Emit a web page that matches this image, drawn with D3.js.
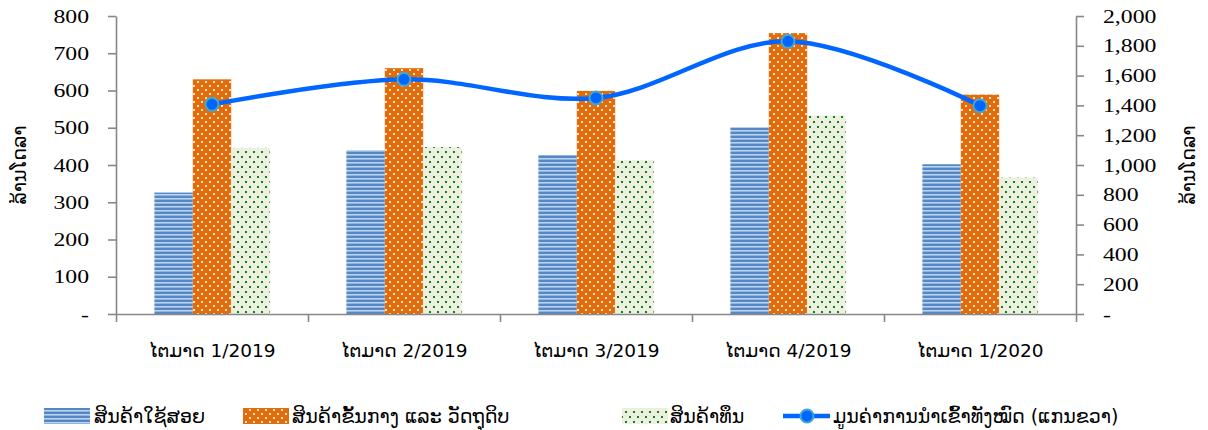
<!DOCTYPE html>
<html>
<head>
<meta charset="utf-8">
<script src="https://cdn.jsdelivr.net/npm/d3@7"></script>
<style>
  body { margin: 0; background: #fff; }
  .lao { font-family: "DejaVu Sans", "Noto Sans", sans-serif; }
  .num { font-family: "Liberation Serif", "DejaVu Serif", serif; }
</style>
</head>
<body>
<svg id="chart"></svg>
<script>
// chart data
var quarters = ["ໄຕມາດ 1/2019", "ໄຕມາດ 2/2019", "ໄຕມາດ 3/2019", "ໄຕມາດ 4/2019", "ໄຕມາດ 1/2020"];
var consumerGoods = [326, 440, 427, 501, 402];
var intermediateGoods = [630, 660, 599, 754, 589];
var capitalGoods = [446, 448, 413, 533, 366];
var totalImports = [1407, 1575, 1450, 1830, 1398];
var seriesNames = ["ສິນຄ້າໃຊ້ສອຍ", "ສິນຄ້າຂັ້ນກາງ ແລະ ວັດຖຸດິບ", "ສິນຄ້າທຶນ", "ມູນຄ່າການນຳເຂົ້າທັງໝົດ (ແກນຂວາ)"];
var leftTicks = [0, 100, 200, 300, 400, 500, 600, 700, 800];
var rightTicks = [0, 200, 400, 600, 800, 1000, 1200, 1400, 1600, 1800, 2000];
var axisTitle = "ລ້ານໂດລາ";

var width = 1208, height = 430;
var margin = {left: 116, right: 132, top: 16, bottom: 116};
var plotBottom = height - margin.bottom;   // 314
var plotRight = width - margin.right;      // 1076
var textStretch = 1.25;

var svg = d3.select('#chart')
    .attr('width', width)
    .attr('height', height);

// patterns for bars
var defs = svg.append('defs');

var pBlue = defs.append('pattern').attr('id', 'pBlue')
    .attr('patternUnits', 'userSpaceOnUse').attr('width', 8).attr('height', 4);
pBlue.append('rect').attr('width', 8).attr('height', 4).attr('fill', '#b9d5ef');
pBlue.append('rect').attr('y', 0).attr('width', 8).attr('height', 2).attr('fill', '#5687c4');
pBlue.append('rect').attr('y', 3).attr('width', 8).attr('height', 1).attr('fill', '#8fb4de');

var pOrange = defs.append('pattern').attr('id', 'pOrange')
    .attr('patternUnits', 'userSpaceOnUse').attr('width', 8).attr('height', 8);
pOrange.append('rect').attr('width', 8).attr('height', 8).attr('fill', '#e36c0a');
pOrange.append('rect').attr('x', 1).attr('y', 1).attr('width', 2).attr('height', 2).attr('fill', '#fbe3d0');
pOrange.append('rect').attr('x', 5).attr('y', 5).attr('width', 2).attr('height', 2).attr('fill', '#fbe3d0');

var pGreen = defs.append('pattern').attr('id', 'pGreen')
    .attr('patternUnits', 'userSpaceOnUse').attr('width', 8).attr('height', 10);
pGreen.append('rect').attr('width', 8).attr('height', 10).attr('fill', '#ebf1de');
pGreen.append('rect').attr('x', 1).attr('y', 1).attr('width', 2).attr('height', 2).attr('fill', '#1d7a24');
pGreen.append('rect').attr('x', 5).attr('y', 6).attr('width', 2).attr('height', 2).attr('fill', '#1d7a24');

var fills = ['url(#pBlue)', 'url(#pOrange)', 'url(#pGreen)'];
var barSeries = [consumerGoods, intermediateGoods, capitalGoods];

// scales
var x0 = d3.scaleBand().domain(quarters).range([margin.left, plotRight]).padding(0);
var x1 = d3.scaleBand().domain([0, 1, 2])
    .range([x0.bandwidth() * 0.2, x0.bandwidth() * 0.8]).padding(0);
var xEdges = d3.scaleLinear().domain([0, quarters.length]).range([margin.left, plotRight]);
var yLeft = d3.scaleLinear().domain([0, 800]).range([plotBottom, margin.top]);
var yRight = d3.scaleLinear().domain([0, 2000]).range([plotBottom, margin.top]);

// bars
var groups = svg.append('g').selectAll('.grp')
    .data(quarters)
    .enter().append('g')
    .attr('class', 'grp')
    .attr('transform', function(d) { return 'translate(' + x0(d) + ',0)'; });

groups.selectAll('.bar')
    .data(function(d, i) { return barSeries.map(function(s, j) { return {s: j, v: s[i]}; }); })
    .enter().append('rect')
    .attr('class', 'bar')
    .attr('x', function(d) { return x1(d.s); })
    .attr('width', x1.bandwidth())
    .attr('y', function(d) { return yLeft(d.v); })
    .attr('height', function(d) { return plotBottom - yLeft(d.v); })
    .attr('fill', function(d) { return fills[d.s]; });

// axes
function styleAxis(g) {
    g.selectAll('path, line').attr('stroke', '#878787').attr('stroke-width', 1.6);
}

var gxTicks = svg.append('g')
    .attr('transform', 'translate(0,' + plotBottom + ')')
    .call(d3.axisBottom(xEdges).ticks(quarters.length).tickSize(8).tickSizeOuter(0).tickFormat(''))
    .call(styleAxis);

var gxLabels = svg.append('g')
    .attr('transform', 'translate(0,' + plotBottom + ')')
    .call(d3.axisBottom(x0).tickSize(0).tickPadding(36));
gxLabels.select('.domain').remove();
gxLabels.selectAll('text')
    .attr('class', 'lao')
    .attr('dy', 0)
    .attr('dominant-baseline', 'central')
    .style('font-size', '18.5px')
    .attr('fill', '#000');

var gyLeft = svg.append('g')
    .attr('transform', 'translate(' + margin.left + ',0)')
    .call(d3.axisLeft(yLeft).tickValues(leftTicks).tickSize(8).tickSizeOuter(0)
        .tickFormat(function(d) { return d === 0 ? '-' : d; }))
    .call(styleAxis);
gyLeft.selectAll('text')
    .attr('class', 'num')
    .attr('x', -27 / textStretch)
    .attr('transform', 'scale(' + textStretch + ',1)')
    .style('font-size', '19px')
    .attr('fill', '#000');

var gyRight = svg.append('g')
    .attr('transform', 'translate(' + plotRight + ',0)')
    .call(d3.axisRight(yRight).tickValues(rightTicks).tickSize(8).tickSizeOuter(0)
        .tickFormat(function(d) { return d === 0 ? '-' : d3.format(',')(d); }))
    .call(styleAxis);
gyRight.selectAll('text')
    .attr('class', 'num')
    .attr('x', 27 / textStretch)
    .attr('transform', 'scale(' + textStretch + ',1)')
    .style('font-size', '19px')
    .attr('fill', '#000');

// axis titles (both read bottom to top)
svg.append('text')
    .attr('class', 'lao')
    .attr('transform', 'translate(19,165) rotate(-90)')
    .attr('text-anchor', 'middle')
    .attr('dominant-baseline', 'central')
    .style('font-size', '19px')
    .text(axisTitle);

svg.append('text')
    .attr('class', 'lao')
    .attr('transform', 'translate(1188,165) rotate(-90)')
    .attr('text-anchor', 'middle')
    .attr('dominant-baseline', 'central')
    .style('font-size', '19px')
    .text(axisTitle);

// total imports line
var lineGen = d3.line()
    .x(function(d, i) { return x0(quarters[i]) + x0.bandwidth() / 2; })
    .y(function(d) { return yRight(d); })
    .curve(d3.curveCatmullRom.alpha(0.5));

svg.append('path')
    .datum(totalImports)
    .attr('d', lineGen)
    .attr('fill', 'none')
    .attr('stroke', '#0066ff')
    .attr('stroke-width', 4.5);

svg.selectAll('.dot')
    .data(totalImports)
    .enter().append('circle')
    .attr('class', 'dot')
    .attr('cx', function(d, i) { return x0(quarters[i]) + x0.bandwidth() / 2; })
    .attr('cy', function(d) { return yRight(d); })
    .attr('r', 6.5)
    .attr('fill', '#0066ff')
    .attr('stroke', '#46a7c8')
    .attr('stroke-width', 2);

// legend
var legendY = 416;
var legendItems = [
    {x: 44, tx: 94, fill: fills[0]},
    {x: 243, tx: 292, fill: fills[1]},
    {x: 622, tx: 670, fill: fills[2]}
];
legendItems.forEach(function(item, i) {
    svg.append('rect')
        .attr('x', item.x).attr('y', legendY - 8)
        .attr('width', 46).attr('height', 16)
        .attr('fill', item.fill);
    svg.append('text')
        .attr('class', 'lao')
        .attr('x', item.tx).attr('y', legendY)
        .attr('dominant-baseline', 'central')
        .style('font-size', '19px')
        .text(seriesNames[i]);
});
svg.append('line')
    .attr('x1', 783).attr('x2', 830).attr('y1', legendY).attr('y2', legendY)
    .attr('stroke', '#0066ff').attr('stroke-width', 4.5);
svg.append('circle')
    .attr('cx', 807).attr('cy', legendY).attr('r', 6.5)
    .attr('fill', '#0066ff').attr('stroke', '#46a7c8').attr('stroke-width', 2);
svg.append('text')
    .attr('class', 'lao')
    .attr('x', 833).attr('y', legendY)
    .attr('dominant-baseline', 'central')
    .style('font-size', '19px')
    .text(seriesNames[3]);
</script>
</body>
</html>
